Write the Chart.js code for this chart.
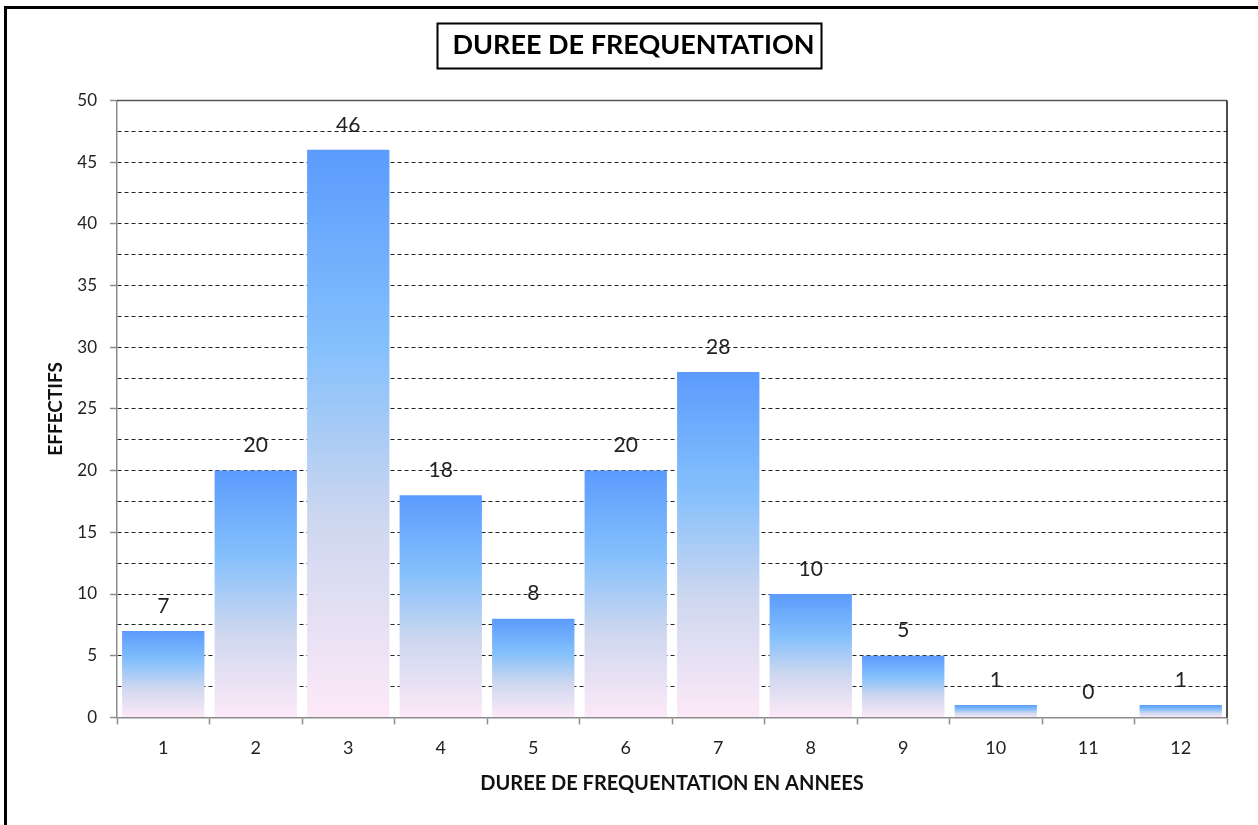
<!DOCTYPE html>
<html>
<head>
<meta charset="utf-8">
<script src="https://cdn.jsdelivr.net/npm/chart.js@4"></script>
<style>
  html, body { margin: 0; padding: 0; background: #fff; }
  #wrap { width: 1258px; height: 825px; position: relative; }
</style>
</head>
<body>
<div id="wrap"><canvas id="myChart" width="1258" height="825"></canvas></div>
<script>
const categories = ['1', '2', '3', '4', '5', '6', '7', '8', '9', '10', '11', '12'];
const effectifs = [7, 20, 46, 18, 8, 20, 28, 10, 5, 1, 0, 1];
const yMax = 50;
const yMajorStep = 5;
const yGridStep = 2.5;

const chartTitle = 'DUREE DE FREQUENTATION';
const xTitle = 'DUREE DE FREQUENTATION EN ANNEES';
const yTitle = 'EFFECTIFS';

const fontFamily = 'Lato, "Open Sans", sans-serif';

const barGradient = (ctx) => {
  const chart = ctx.chart;
  if (!chart.chartArea || ctx.type !== 'data') return '#7fb8fc';
  const y = chart.scales.y;
  const top = y.getPixelForValue(ctx.raw);
  const bottom = y.getPixelForValue(0);
  if (bottom - top < 1) return '#7fb8fc';
  const g = chart.ctx.createLinearGradient(0, top, 0, bottom);
  g.addColorStop(0, '#5b9bfd');
  g.addColorStop(0.35, '#85c0fc');
  g.addColorStop(0.65, '#cdd7ef');
  g.addColorStop(1, '#fde9f8');
  return g;
};

// outer frame, boxed title, plot frame and value labels
const decorations = {
  id: 'decorations',
  beforeDraw(chart) {
    const c = chart.ctx;
    c.save();
    c.strokeStyle = '#000';
    c.lineWidth = 3;
    c.strokeRect(5.5, 7.5, 1400, 1000);
    c.restore();
  },
  afterDatasetsDraw(chart) {
    const c = chart.ctx;
    const meta = chart.getDatasetMeta(0);
    c.save();
    c.font = '21px ' + fontFamily;
    c.fillStyle = '#222';
    c.textAlign = 'center';
    c.textBaseline = 'middle';
    meta.data.forEach((bar, i) => {
      c.fillText(String(effectifs[i]), bar.x, bar.y - 25);
    });
    c.restore();
  },
  afterDraw(chart) {
    const c = chart.ctx;
    const a = chart.chartArea;
    c.save();
    // top and right frame of the plot
    c.lineWidth = 1.5;
    c.strokeStyle = '#555';
    c.beginPath();
    c.moveTo(a.left, a.top);
    c.lineTo(a.right, a.top);
    c.stroke();
    c.strokeStyle = '#111';
    c.beginPath();
    c.moveTo(a.right, a.top);
    c.lineTo(a.right, a.bottom);
    c.stroke();
    // box round the title
    const tb = chart.titleBlock;
    c.font = 'bold 27px ' + fontFamily;
    const w = c.measureText(chartTitle).width;
    const cx = chart.width / 2;
    const cy = tb.top + 29 + 16.2;
    c.lineWidth = 2;
    c.strokeStyle = '#000';
    c.strokeRect(Math.round(cx - w / 2 - 11) + 0.5, Math.round(cy - 22) + 0.5, Math.round(w + 22), 45);
    c.restore();
  }
};

const ctx = document.getElementById('myChart');
const myChart = new Chart(ctx, {
  type: 'bar',
  data: {
    labels: categories,
    datasets: [{
      data: effectifs,
      backgroundColor: barGradient,
      borderWidth: 0,
      barPercentage: 0.89,
      categoryPercentage: 1
    }]
  },
  options: {
    responsive: false,
    animation: false,
    layout: {
      padding: { left: 40, right: 31, top: 0, bottom: 27 }
    },
    plugins: {
      legend: { display: false },
      tooltip: { enabled: false },
      title: {
        display: true,
        text: chartTitle,
        color: '#000',
        font: { family: fontFamily, size: 27, weight: 'bold' },
        padding: { top: 29, bottom: 39 }
      }
    },
    scales: {
      x: {
        grid: {
          offset: true,
          drawOnChartArea: false,
          tickLength: 7,
          tickColor: '#8c8c8c',
          tickWidth: 1.5
        },
        border: { color: '#8c8c8c', width: 1.5 },
        ticks: {
          color: '#222',
          padding: 13,
          font: { family: fontFamily, size: 18 }
        },
        title: {
          display: true,
          text: xTitle,
          color: '#111',
          font: { family: fontFamily, size: 20, weight: 'bold' },
          padding: { top: 0, bottom: 2 }
        }
      },
      y: {
        min: 0,
        max: yMax,
        afterFit(scale) { scale.width = 77; },
        grid: {
          color: (c) => c.tick && c.tick.value === 0 ? 'rgba(0,0,0,0)' : '#222',
          lineWidth: 1,
          tickLength: 7,
          tickColor: (c) => c.tick && c.tick.value % yMajorStep === 0 ? '#8c8c8c' : 'rgba(0,0,0,0)',
          tickWidth: 1.5,
          tickBorderDash: []
        },
        border: { color: '#8c8c8c', width: 1.5, dash: [4, 3] },
        ticks: {
          stepSize: yGridStep,
          autoSkip: false,
          color: '#222',
          padding: 13,
          font: { family: fontFamily, size: 17 },
          callback: (v) => v % yMajorStep === 0 ? v : ''
        },
        title: {
          display: true,
          text: yTitle,
          color: '#111',
          font: { family: fontFamily, size: 19, weight: 'bold' },
          padding: { top: 4, bottom: 4 }
        }
      }
    }
  },
  plugins: [decorations]
});
</script>
</body>
</html>
